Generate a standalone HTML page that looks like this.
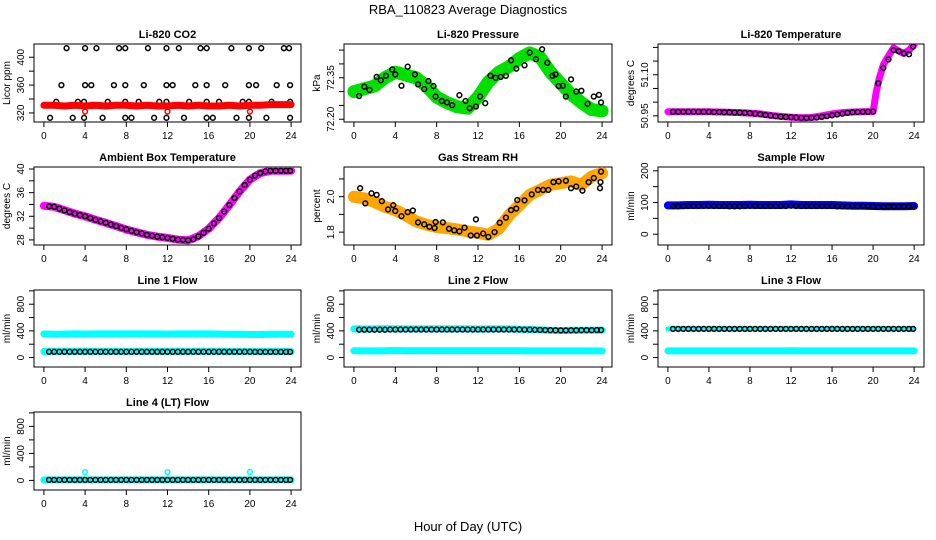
<!DOCTYPE html>
<html><head><meta charset="utf-8"><style>
html,body{margin:0;padding:0;background:#fff}
svg{display:block}
text{font-family:"Liberation Sans",sans-serif;fill:#000}
</style></head><body>
<svg id="chart" width="936" height="540" viewBox="0 0 936 540" xmlns="http://www.w3.org/2000/svg">
<text x="468" y="14" font-size="13" text-anchor="middle">RBA_110823  Average Diagnostics</text>
<text x="468" y="531" font-size="13" text-anchor="middle">Hour of Day (UTC)</text>
</svg>
<script>
const hours25 = [0,1,2,3,4,5,6,7,8,9,10,11,12,13,14,15,16,17,18,19,20,21,22,23,24];
const hours48 = [0.5,1,1.5,2,2.5,3,3.5,4,4.5,5,5.5,6,6.5,7,7.5,8,8.5,9,9.5,10,10.5,11,11.5,12,12.5,13,13.5,14,14.5,15,15.5,16,16.5,17,17.5,18,18.5,19,19.5,20,20.5,21,21.5,22,22.5,23,23.5,23.9];
const xTickLabels = ["0","4","8","12","16","20","24"];

// CO2
const co2Band = [331,331,330,331,330,331,330,331,331,330,331,330,330,331,330,331,330,330,331,330,331,331,332,332,332];
const co2CircleHours = [2.2,4.0,5.1,7.3,7.9,10.1,11.9,13.1,15.2,15.8,18.2,19.9,21.1,23.3,23.8, 1.7,4.0,4.6,6.8,7.9,9.7,11.9,12.5,14.7,15.8,17.6,19.9,20.6,22.6,23.9, 1.2,3.3,3.9,6.2,7.9,9.2,11.2,11.9,14.1,15.8,17.0,19.3,19.9,22.1,23.9, 0.6,2.8,3.9,5.7,7.9,8.5,10.7,11.9,13.6,15.8,16.4,18.7,19.9,21.6,23.9];
const co2CircleValues = [413,413,413,413,413,413,413,413,413,413,413,413,413,413,413, 360,360,360,360,360,360,360,360,360,360,360,360,360,360,360, 336,336,336,336,336,336,336,336,336,336,336,336,336,336,336, 313,313,313,313,313,313,313,313,313,313,313,313,313,313,313];
const co2OutlierHours = [4,12,20];
const co2OutlierValues = [322,322,322];

// Pressure
const presBand = [72.30,72.31,72.32,72.35,72.37,72.36,72.35,72.32,72.28,72.26,72.245,72.24,72.28,72.335,72.37,72.39,72.42,72.44,72.425,72.37,72.33,72.29,72.26,72.235,72.23];
const presCircleHours = [0.5,1,1.5,2.2,2.6,3.1,3.7,4,4.6,5.2,5.9,6.2,6.8,7.2,7.7,7.9,8.5,9,9.5,10.2,10.8,11.2,11.8,12.2,12.7,13.2,13.7,14.2,14.7,15.2,15.7,16.5,17,17.6,18.2,18.7,19.2,19.5,19.8,20.2,20.5,21,21.5,22,22.6,23.2,23.7,23.9];
const presCircleValues = [72.284,72.318,72.306,72.353,72.341,72.357,72.380,72.362,72.321,72.390,72.362,72.326,72.309,72.338,72.320,72.282,72.266,72.261,72.251,72.287,72.266,72.240,72.246,72.282,72.258,72.357,72.350,72.353,72.357,72.413,72.383,72.395,72.441,72.417,72.453,72.404,72.357,72.362,72.320,72.321,72.282,72.344,72.300,72.303,72.256,72.282,72.288,72.261];

// Li-820 temperature
const tempBandHours = [0,1,2,3,4,5,6,7,8,9,10,11,12,13,14,15,16,17,18,19,20,20.3,20.6,21,21.5,22,22.5,23,23.5,24];
const tempBand = [50.965,50.965,50.965,50.965,50.965,50.964,50.963,50.962,50.960,50.957,50.952,50.948,50.945,50.943,50.944,50.950,50.957,50.962,50.964,50.965,50.966,51.037,51.087,51.137,51.169,51.198,51.187,51.178,51.190,51.210];
const tempCircles = [50.965,50.965,50.965,50.965,50.965,50.965,50.965,50.965,50.964,50.964,50.963,50.963,50.962,50.962,50.961,50.960,50.958,50.956,50.953,50.951,50.949,50.947,50.946,50.945,50.944,50.943,50.942,50.943,50.944,50.946,50.949,50.952,50.955,50.958,50.961,50.963,50.964,50.965,50.965,50.966,51.069,51.125,51.156,51.190,51.186,51.178,51.175,51.203];

// Ambient box temperature
const ambBand = [33.77,33.6,33.03,32.46,32.0,31.43,30.9,30.34,29.77,29.3,28.86,28.57,28.34,28.06,27.94,28.63,29.9,31.7,33.9,36.2,38.2,39.3,39.7,39.7,39.7];
const ambCircles = [33.7,33.6,33.3,33.0,32.7,32.45,32.2,32.0,31.7,31.4,31.15,30.9,30.6,30.35,30.05,29.8,29.55,29.3,29.1,28.85,28.7,28.55,28.45,28.35,28.2,28.05,28.0,27.95,28.1,28.6,29.2,29.9,30.8,31.7,32.8,33.9,35.1,36.2,37.3,38.2,38.9,39.3,39.6,39.7,39.7,39.7,39.7,39.7];

// Gas stream RH
const rhBand = [2.0,1.99,1.97,1.943,1.924,1.895,1.861,1.842,1.829,1.823,1.815,1.804,1.796,1.785,1.819,1.895,1.952,2.01,2.038,2.067,2.076,2.086,2.067,2.114,2.133];
const rhCircleHours = [0.6,1.1,1.7,2.2,2.7,3.3,3.8,4,4.6,5.2,5.7,6.2,6.8,7.3,7.8,7.9,8.6,9.2,9.7,10.2,10.7,11.3,11.8,11.9,12.5,13,13.6,14.1,14.7,15.2,15.7,15.8,16.5,17.2,17.8,18.3,18.8,19.3,19.8,20.5,21,21.5,22.1,22.7,23.2,23.8,23.85,23.9];
const rhCircleValues = [2.048,1.962,2.019,2.010,1.975,1.928,1.952,1.919,1.890,1.913,1.922,1.855,1.844,1.830,1.823,1.857,1.855,1.819,1.810,1.804,1.825,1.781,1.872,1.781,1.792,1.773,1.800,1.853,1.882,1.924,1.933,1.981,1.979,2.013,2.038,2.038,2.038,2.082,2.086,2.090,2.048,2.057,2.034,2.082,2.105,2.048,2.082,2.141];

// Sample flow
const sfBand = [91,91,92,92,93,92,92,92,93,92,92,92,94,92,92,92,92,91,90,90,89,88,88,88,89];
const sfCircles = [88,88,89,89,90,90,90,90,89,89,89,88,88,88,89,90,89,89,89,89,89,89,89,90,89,89,89,89,89,89,89,89,88,88,88,89,89,89,88,88,86,87,87,87,87,87,88,89];

// Line flows
const l1CyanUpper = [354,350,352,354,352,355,354,354,355,354,354,354,352,354,354,355,354,352,350,348,345,346,348,350,350];
const l1CyanLower = [91,92,93,92,93,92,92,93,92,93,92,93,92,93,92,93,92,92,91,91,90,90,90,90,90];
const l1Circles = [86,86,86,86,86,86,86,86,86,86,86,86,86,86,86,86,86,86,86,86,86,86,86,86,86,86,86,86,86,86,86,86,86,86,86,86,86,86,86,86,85,85,85,85,85,85,85,85];
const l2CyanUpper = [430,428,430,432,430,430,430,430,430,430,430,430,428,430,430,430,425,420,415,410,405,408,410,412,412];
const l2CyanLower = [101,100,100,101,105,101,101,101,102,101,101,101,103,101,101,101,101,100,100,100,100,100,100,100,100];
const l2Circles = [418,418,418,418,418,418,420,420,420,420,420,420,420,420,420,420,420,420,420,420,420,420,420,420,420,420,420,420,420,420,420,420,418,418,416,414,412,410,408,407,407,408,408,410,410,410,412,412];
const l3CyanUpper = [430,430,430,430,430,430,430,430,430,430,430,430,430,430,430,430,430,430,430,430,430,430,430,430,430];
const l3CyanLower = [100,100,100,100,100,100,100,100,100,100,100,100,103,100,100,100,100,100,100,100,100,100,100,100,100];
const l3Circles = [430,430,430,430,430,430,430,430,430,430,430,430,430,430,430,430,430,430,430,430,430,430,430,430,430,430,430,430,430,430,430,430,430,430,430,430,430,430,430,430,430,430,430,430,430,430,430,430];
const l4Cyan = [8,8,8,8,8,8,8,8,8,8,8,8,8,8,8,8,8,8,8,8,8,8,8,8,8];
const l4OutlierHours = [4,12,20];
const l4OutlierValues = [125,125,125];
const l4Circles = [8,8,8,8,8,8,8,8,8,8,8,8,8,8,8,8,8,8,8,8,8,8,8,8,8,8,8,8,8,8,8,8,8,8,8,8,8,8,8,8,8,8,8,8,8,8,8,8];

const NS = "http://www.w3.org/2000/svg";
const svg = document.getElementById("chart");
function mk(tag, attrs, parent){ const e=document.createElementNS(NS,tag); for(const k in attrs) e.setAttribute(k,attrs[k]); (parent||svg).appendChild(e); return e; }

const cols = [{l:34,r:301},{l:344,r:612},{l:658,r:924}];
const rows = [{t:44,b:122},{t:167,b:245},{t:290,b:367},{t:412,b:490}];

function panel(cfg){
  const c = cols[cfg.col], rw = rows[cfg.row];
  const g = mk("g",{});
  
  
  const X = h => c.l + (h - (-0.96)) / 25.92 * (c.r - c.l);
  const Y = v => rw.b - (v - cfg.yd[0]) / (cfg.yd[1] - cfg.yd[0]) * (rw.b - rw.t);
  const t = mk("text",{x:(c.l+c.r)/2, y:rw.t-6, "font-size":11, "font-weight":"bold", "text-anchor":"middle"}, g);
  t.textContent = cfg.title;
  
  
  const box = mk("rect",{x:c.l, y:rw.t, width:c.r-c.l, height:rw.b-rw.t, fill:"none", stroke:"#000", "stroke-width":1}, g);
  
  
  // x axis
  const xa = mk("g",{}, g);
  
  
  mk("line",{x1:X(0),x2:X(24),y1:rw.b,y2:rw.b,stroke:"#000"}, xa);
  xTickLabels.forEach(s=>{
    const h=+s;
    mk("line",{x1:X(h),x2:X(h),y1:rw.b,y2:rw.b+5,stroke:"#000"}, xa);
    const tl = mk("text",{x:X(h), y:rw.b+17, "font-size":10, "text-anchor":"middle"}, xa);
    tl.textContent = s;
    
    
  });
  // y axis
  const ya = mk("g",{}, g);
  
  
  const yt = cfg.yticks;
  mk("line",{x1:c.l,x2:c.l,y1:Y(yt[0]),y2:Y(yt[yt.length-1]),stroke:"#000"}, ya);
  yt.forEach((v,i)=>{
    mk("line",{x1:c.l-5,x2:c.l,y1:Y(v),y2:Y(v),stroke:"#000"}, ya);
    if(cfg.ylabels[i]){
      const yl = mk("text",{x:0,y:0,"font-size":10,"text-anchor":"middle",transform:`translate(${c.l-10},${Y(v)}) rotate(-90)`}, ya);
      yl.textContent = cfg.ylabels[i];
      
      
    }
  });
  const ytl = mk("text",{x:0,y:0,"font-size":10,"text-anchor":"middle",transform:`translate(${c.l-24},${(rw.t+rw.b)/2}) rotate(-90)`}, g);
  ytl.textContent = cfg.ytitle;
  
  
  const clip = "clip"+cfg.name;
  const cp = mk("clipPath",{id:clip}, g);
  mk("rect",{x:c.l,y:rw.t,width:c.r-c.l,height:rw.b-rw.t}, cp);
  const layer = mk("g",{"clip-path":`url(#${clip})`}, g);
  cfg.layers.forEach(L=>{
    if(L.type==="band"){
      const d = L.x.map((h,i)=>(i?"L":"M")+X(h).toFixed(1)+","+Y(L.y[i]).toFixed(1)).join("");
      const p = mk("path",{d:d, fill:"none", stroke:L.color, "stroke-width":L.w, "stroke-linecap":"round", "stroke-linejoin":"round"}, layer);
      
      
    } else {
      const pg = mk("g",{}, layer);
      
      
      L.x.forEach((h,i)=>{
        const ci = mk("circle",{cx:X(h), cy:Y(L.y[i]), r:2.4, fill:"none", stroke:L.color, "stroke-width":1.5}, pg);
        
        
      });
    }
  });
}

panel({name:"co2-panel",col:0,row:0,title:"Li-820 CO2",ytitle:"Licor ppm",yd:[307,419],yticks:[320,340,360,380,400],ylabels:["320","","360","","400"],
  layers:[{type:"pts",name:"co2-hourly-points",x:co2CircleHours,y:co2CircleValues,color:"#000"},
          {type:"band",name:"co2-minute-series",x:hours25,y:co2Band,color:"#ff0000",w:7},
          {type:"pts",name:"co2-outliers",x:co2OutlierHours,y:co2OutlierValues,color:"#ff0000"}]});
panel({name:"pressure-panel",col:1,row:0,title:"Li-820 Pressure",ytitle:"kPa",yd:[72.19,72.472],yticks:[72.20,72.25,72.30,72.35,72.40,72.45],ylabels:["72.20","","","72.35","",""],
  layers:[{type:"band",name:"pressure-minute-series",x:hours25,y:presBand,color:"#00e000",w:13},
          {type:"pts",name:"pressure-hourly-points",x:presCircleHours,y:presCircleValues,color:"#000"}]});
panel({name:"li820-temperature-panel",col:2,row:0,title:"Li-820 Temperature",ytitle:"degrees C",yd:[50.9275,51.2124],yticks:[50.95,51.00,51.05,51.10,51.15,51.20],ylabels:["50.95","","","51.10","",""],
  layers:[{type:"band",name:"temperature-minute-series",x:tempBandHours,y:tempBand,color:"#ff00ff",w:7},
          {type:"pts",name:"temperature-hourly-points",x:hours48,y:tempCircles,color:"#000"}]});
panel({name:"ambient-temperature-panel",col:0,row:1,title:"Ambient Box Temperature",ytitle:"degrees C",yd:[27.14,40.34],yticks:[28,30,32,34,36,38,40],ylabels:["28","","32","","36","","40"],
  layers:[{type:"band",name:"ambient-minute-series",x:hours25,y:ambBand,color:"#ff00ff",w:8},
          {type:"pts",name:"ambient-hourly-points",x:hours48,y:ambCircles,color:"#000"}]});
panel({name:"rh-panel",col:1,row:1,title:"Gas Stream RH",ytitle:"percent",yd:[1.7274,2.1674],yticks:[1.8,1.9,2.0,2.1],ylabels:["1.8","","2.0",""],
  layers:[{type:"band",name:"rh-minute-series",x:hours25,y:rhBand,color:"#ffa500",w:12},
          {type:"pts",name:"rh-hourly-points",x:rhCircleHours,y:rhCircleValues,color:"#000"}]});
panel({name:"sample-flow-panel",col:2,row:1,title:"Sample Flow",ytitle:"ml/min",yd:[-34,212],yticks:[0,50,100,150,200],ylabels:["0","","100","","200"],
  layers:[{type:"band",name:"sample-flow-minute-series",x:hours25,y:sfBand,color:"#0000ff",w:8},
          {type:"pts",name:"sample-flow-hourly-points",x:hours48,y:sfCircles,color:"#000"}]});
const flowY = [-142,1013], flowTicks=[0,200,400,600,800,1000], flowLabels=["0","","400","","800",""];
panel({name:"line1-flow-panel",col:0,row:2,title:"Line 1 Flow",ytitle:"ml/min",yd:flowY,yticks:flowTicks,ylabels:flowLabels,
  layers:[{type:"band",name:"line1-upper-series",x:hours25,y:l1CyanUpper,color:"#00ffff",w:7},
          {type:"band",name:"line1-lower-series",x:hours25,y:l1CyanLower,color:"#00ffff",w:7},
          {type:"pts",name:"line1-hourly-points",x:hours48,y:l1Circles,color:"#000"}]});
panel({name:"line2-flow-panel",col:1,row:2,title:"Line 2 Flow",ytitle:"ml/min",yd:flowY,yticks:flowTicks,ylabels:flowLabels,
  layers:[{type:"band",name:"line2-upper-series",x:hours25,y:l2CyanUpper,color:"#00ffff",w:7},
          {type:"band",name:"line2-lower-series",x:hours25,y:l2CyanLower,color:"#00ffff",w:7},
          {type:"pts",name:"line2-hourly-points",x:hours48,y:l2Circles,color:"#000"}]});
panel({name:"line3-flow-panel",col:2,row:2,title:"Line 3 Flow",ytitle:"ml/min",yd:flowY,yticks:flowTicks,ylabels:flowLabels,
  layers:[{type:"band",name:"line3-upper-series",x:hours25,y:l3CyanUpper,color:"#00ffff",w:5},
          {type:"band",name:"line3-lower-series",x:hours25,y:l3CyanLower,color:"#00ffff",w:7},
          {type:"pts",name:"line3-hourly-points",x:hours48,y:l3Circles,color:"#000"}]});
panel({name:"line4-flow-panel",col:0,row:3,title:"Line 4 (LT) Flow",ytitle:"ml/min",yd:flowY,yticks:flowTicks,ylabels:flowLabels,
  layers:[{type:"band",name:"line4-minute-series",x:hours25,y:l4Cyan,color:"#00ffff",w:7},
          {type:"pts",name:"line4-outliers",x:l4OutlierHours,y:l4OutlierValues,color:"#00ffff"},
          {type:"pts",name:"line4-hourly-points",x:hours48,y:l4Circles,color:"#000"}]});
</script>
</body></html>
